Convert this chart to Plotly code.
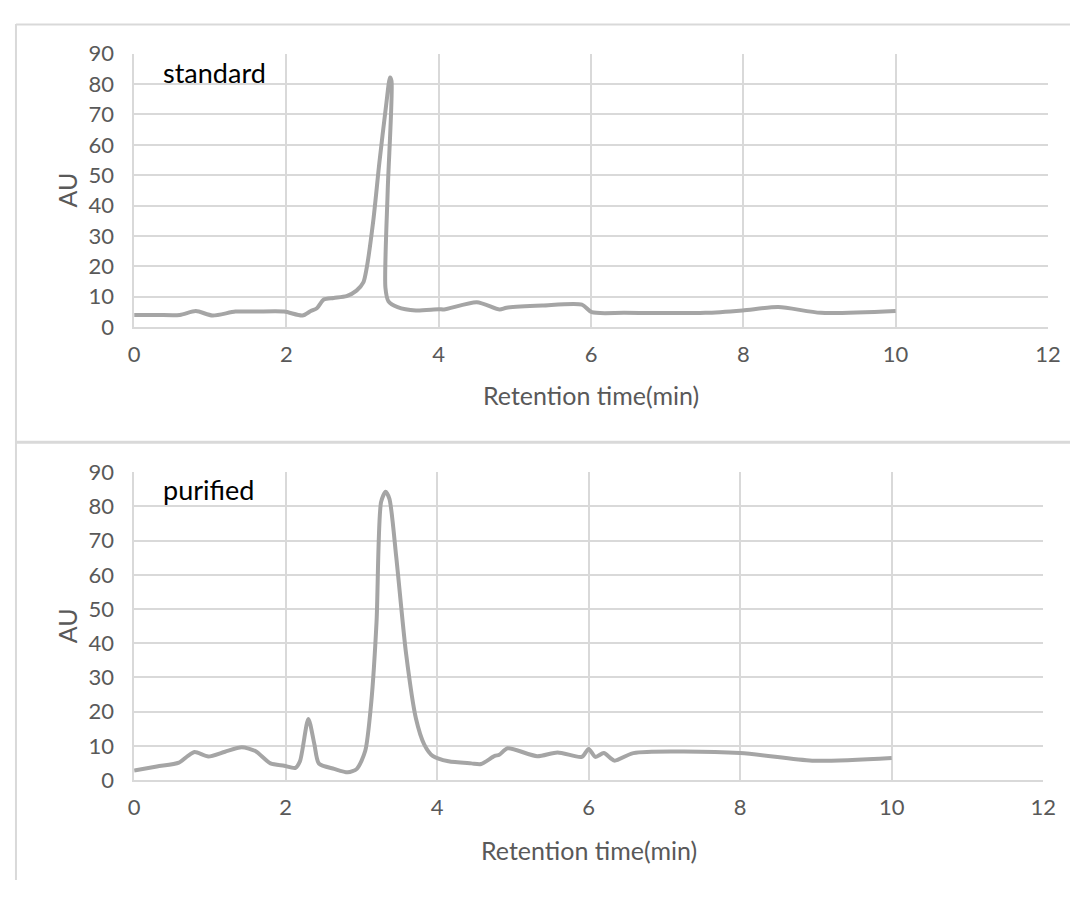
import plotly.graph_objects as go

# ---- data ----
standard_time = [0, 0.3, 0.6, 0.81, 1.03, 1.33, 1.6, 1.97, 2.21, 2.32, 2.40, 2.49, 2.62, 2.79,
                 2.92, 3.01, 3.05, 3.14, 3.22, 3.31, 3.36, 3.38, 3.33, 3.30, 3.34, 3.46, 3.70,
                 4.0, 4.07, 4.5, 4.8, 4.89, 5.36, 5.88, 6.01, 6.44, 7.5, 7.99, 8.46, 9.02, 10.0]
standard_au = [4.0, 4.0, 4.0, 5.3, 3.8, 5.1, 5.1, 5.1, 3.8, 5.3, 6.2, 9.1, 9.6, 10.2,
               12.0, 14.7, 18.9, 34.9, 54.0, 73.2, 82.2, 81.0, 45.0, 13.0, 8.5, 6.6, 5.5,
               5.9, 5.8, 8.2, 5.8, 6.4, 7.1, 7.4, 4.9, 4.7, 4.7, 5.5, 6.6, 4.7, 5.3]

purified_time = [0, 0.3, 0.59, 0.71, 0.80, 0.98, 1.2, 1.42, 1.6, 1.8, 1.98, 2.13, 2.19, 2.30,
                 2.38, 2.44, 2.64, 2.82, 2.94, 3.05, 3.13, 3.20, 3.26, 3.32, 3.37, 3.46, 3.59,
                 3.72, 3.83, 3.94, 4.15, 4.45, 4.58, 4.76, 4.82, 4.93, 5.32, 5.59, 5.91, 6.0,
                 6.09, 6.2, 6.34, 6.59, 8.0, 8.95, 10.0]
purified_au = [2.8, 4.0, 5.1, 7.1, 8.2, 6.9, 8.3, 9.6, 8.5, 4.9, 4.2, 3.6, 5.6, 17.9,
               10.4, 4.8, 3.3, 2.3, 3.3, 8.5, 22.7, 46.3, 81.3, 84.3, 82.2, 65.2, 36.9,
               18.0, 10.4, 7.1, 5.5, 4.9, 4.7, 7.1, 7.4, 9.3, 7.0, 8.1, 6.8, 9.1,
               6.8, 7.9, 5.7, 7.9, 7.9, 5.7, 6.5]

x_ticks = [0, 2, 4, 6, 8, 10, 12]
y_ticks = [0, 10, 20, 30, 40, 50, 60, 70, 80, 90]
labels = ["standard", "purified"]
x_title = "Retention time(min)"
y_title = "AU"

# the page body keeps its default 8px margin, so the figure is 16px smaller
# than the window and every page position is shifted by 8px
OFF = 8
W, H = 1091 - 2 * OFF, 901 - 2 * OFF
LINE = "#A5A5A5"
GRID = "#D9D9D9"
TXT = "#595959"
FONT = "Lato"


def px(x):
    return (x - OFF) / W


def py(y):
    return 1 - (y - OFF) / H


fig = go.Figure()
fig.add_trace(go.Scatter(x=standard_time, y=standard_au, mode="lines",
                         line=dict(color=LINE, width=4, shape="spline", smoothing=0.7),
                         xaxis="x", yaxis="y", showlegend=False))
fig.add_trace(go.Scatter(x=purified_time, y=purified_au, mode="lines",
                         line=dict(color=LINE, width=4, shape="spline", smoothing=0.7),
                         xaxis="x2", yaxis="y2", showlegend=False))

# plot areas (page pixel positions)
top = dict(l=130.3, r=1060.5, t=40.7, b=322.7)
bot = dict(l=130.3, r=1055.7, t=472.3, b=790.0)

ax_common = dict(range=[0, 12], tickvals=x_ticks, showgrid=True, gridcolor=GRID, gridwidth=1.5,
                 showline=True, linecolor=GRID, linewidth=1.5, zeroline=False, ticks="",
                 tickfont=dict(family=FONT, size=22, color=TXT), ticklabelstandoff=7,
                 fixedrange=True)
ay_common = dict(range=[0, 90], tickvals=y_ticks, showgrid=True, gridcolor=GRID, gridwidth=1.5,
                 showline=True, linecolor=GRID, linewidth=1.5, zeroline=False, ticks="",
                 tickfont=dict(family=FONT, size=22, color=TXT), ticklabelstandoff=14,
                 fixedrange=True)

fig.update_layout(
    width=W, height=H,
    margin=dict(l=0, r=0, t=0, b=0),
    paper_bgcolor="white", plot_bgcolor="white",
    xaxis=dict(domain=[px(top["l"]), px(top["r"])], anchor="y", **ax_common),
    yaxis=dict(domain=[py(top["b"]), py(top["t"])], anchor="x", **ay_common),
    xaxis2=dict(domain=[px(bot["l"]), px(bot["r"])], anchor="y2", **ax_common),
    yaxis2=dict(domain=[py(bot["b"]), py(bot["t"])], anchor="x2", **ay_common),
)

annotations = []
for (box, lab, lab_y) in [(top, labels[0], 60), (bot, labels[1], 490)]:
    annotations.append(dict(text=lab, x=px(box["l"] + 27), y=py(lab_y), xref="paper", yref="paper",
                            xanchor="left", yanchor="middle", showarrow=False,
                            font=dict(family=FONT, size=27, color="black")))
annotations.append(dict(text=x_title, x=px((top["l"] + top["r"]) / 2), y=py(393), xref="paper", yref="paper",
                        xanchor="center", yanchor="middle", showarrow=False,
                        font=dict(family=FONT, size=25, color=TXT)))
annotations.append(dict(text=x_title, x=px((bot["l"] + bot["r"]) / 2), y=py(862), xref="paper", yref="paper",
                        xanchor="center", yanchor="middle", showarrow=False,
                        font=dict(family=FONT, size=25, color=TXT)))
for box in (top, bot):
    annotations.append(dict(text=y_title, x=px(62), y=py((box["t"] + box["b"]) / 2), xref="paper", yref="paper",
                            xanchor="center", yanchor="middle", showarrow=False, textangle=-90,
                            font=dict(family=FONT, size=25, color=TXT)))
fig.update_layout(annotations=annotations)

shapes = [
    dict(type="line", xref="paper", yref="paper", x0=px(10), x1=1.0, y0=py(10.5), y1=py(10.5),
         line=dict(color=GRID, width=2)),
    dict(type="line", xref="paper", yref="paper", x0=px(10), x1=px(10), y0=py(10), y1=0,
         line=dict(color=GRID, width=2)),
    dict(type="line", xref="paper", yref="paper", x0=px(10), x1=1.0, y0=py(441.5), y1=py(441.5),
         line=dict(color=GRID, width=3)),
]
fig.update_layout(shapes=shapes)

fig.write_html("out.html", config={"displayModeBar": False})
